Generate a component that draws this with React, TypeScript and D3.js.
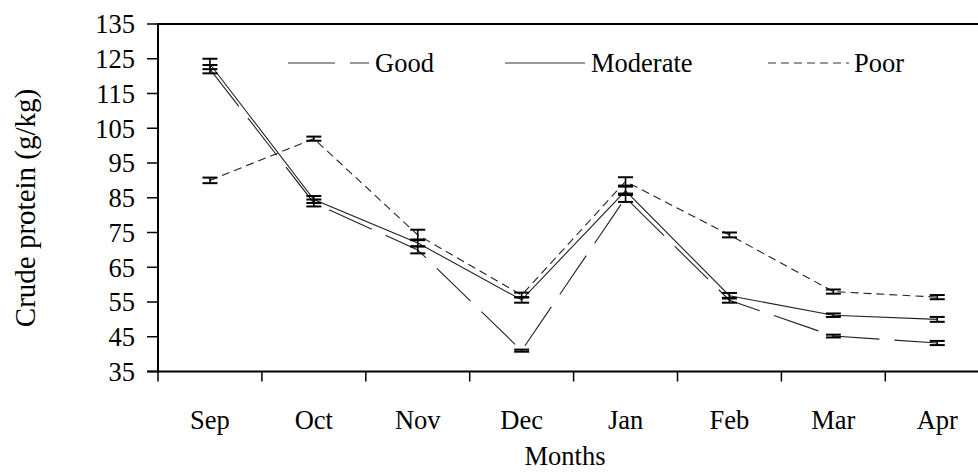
import React from "react";
import * as d3 from "d3";

const months = ["Sep", "Oct", "Nov", "Dec", "Jan", "Feb", "Mar", "Apr"];
const goodValues = [122, 83.5, 70, 41, 85, 55.5, 45.2, 43.2];
const goodErrors = [1.2, 1, 1, 0.3, 1.2, 0.7, 0.4, 0.6];
const moderateValues = [123.5, 84.5, 72, 55.6, 87, 56.8, 51.2, 50];
const moderateErrors = [1.5, 1, 1, 0.8, 1.2, 0.8, 0.5, 0.7];
const poorValues = [90, 102, 74.3, 57, 89.7, 74.3, 58, 56.4];
const poorErrors = [0.8, 0.6, 1.5, 0.7, 1.2, 0.7, 0.6, 0.6];
const yTicks = [35, 45, 55, 65, 75, 85, 95, 105, 115, 125, 135];

const series = [
  { name: "Good", values: goodValues, errors: goodErrors, dash: "47 15" },
  { name: "Moderate", values: moderateValues, errors: moderateErrors, dash: "none" },
  { name: "Poor", values: poorValues, errors: poorErrors, dash: "8 5" },
];

const W = 978;
const H = 475;
const left = 158;
const top = 24;
const bottom = 371.5;
const bandW = 103.9;
const font = "'Liberation Serif', 'Times New Roman', serif";

export default function App() {
  const x = d3.scaleBand<string>().domain(months).range([left, left + bandW * months.length]).padding(0);
  const y = d3.scaleLinear().domain([35, 135]).range([bottom, top]);
  const cx = (m: string) => (x(m) as number) + x.bandwidth() / 2;
  const line = d3
    .line<number>()
    .x((_, i) => cx(months[i]))
    .y((v) => y(v));
  const right = left + bandW * months.length;
  const boundaries = months.map((m) => x(m) as number).concat([right]);

  const legend = [
    { name: "Good", x1: 288, x2: 369, tx: 375, dash: "47 15" },
    { name: "Moderate", x1: 505, x2: 585, tx: 591, dash: "none" },
    { name: "Poor", x1: 768, x2: 849, tx: 854, dash: "8 5" },
  ];

  return (
    <svg width={W} height={H} style={{ position: "absolute", left: 0, top: 0, background: "#fff" }}>
      <line x1={left} x2={right} y1={top} y2={top} stroke="#000" strokeWidth={2} />
      <line x1={right} x2={right} y1={top} y2={bottom} stroke="#000" strokeWidth={2} />
      {series.map((s) => (
        <path
          key={s.name}
          d={line(s.values) || ""}
          fill="none"
          stroke="#222"
          strokeWidth={1.1}
          strokeDasharray={s.dash}
        />
      ))}
      {series.map((s) =>
        s.values.map((v, i) => {
          const px = cx(months[i]);
          const y1 = y(v - s.errors[i]);
          const y2 = y(v + s.errors[i]);
          return (
            <g key={s.name + i} stroke="#000">
              <line x1={px} x2={px} y1={y1} y2={y2} strokeWidth={1.6} />
              <line x1={px - 7.5} x2={px + 7.5} y1={y1} y2={y1} strokeWidth={2} />
              <line x1={px - 7.5} x2={px + 7.5} y1={y2} y2={y2} strokeWidth={2} />
            </g>
          );
        })
      )}
      <line x1={left} x2={left} y1={top - 1} y2={bottom + 1} stroke="#000" strokeWidth={2} />
      {yTicks.map((t) => (
        <g key={t}>
          <line x1={left - 11} x2={left} y1={y(t)} y2={y(t)} stroke="#000" strokeWidth={1.5} />
          <text x={135} y={y(t)} dy="0.35em" textAnchor="end" fontFamily={font} fontSize={26.5} fill="#000">
            {t}
          </text>
        </g>
      ))}
      <line x1={left - 11} x2={right} y1={bottom} y2={bottom} stroke="#000" strokeWidth={2} />
      {boundaries.map((b, i) => (
        <line key={i} x1={b} x2={b} y1={bottom} y2={bottom + 10} stroke="#000" strokeWidth={1.5} />
      ))}
      {months.map((m) => (
        <text key={m} x={cx(m)} y={429} textAnchor="middle" fontFamily={font} fontSize={26.5} fill="#000">
          {m}
        </text>
      ))}
      <text x={565} y={465} textAnchor="middle" fontFamily={font} fontSize={26.5} fill="#000">
        Months
      </text>
      <text
        transform={`translate(35, 208) rotate(-90)`}
        textAnchor="middle"
        fontFamily={font}
        fontSize={29}
        fill="#000"
      >
        Crude protein (g/kg)
      </text>
      {legend.map((l) => (
        <g key={l.name}>
          <line x1={l.x1} x2={l.x2} y1={63} y2={63} stroke="#333" strokeWidth={1.1} strokeDasharray={l.dash} />
          <text x={l.tx} y={72} fontFamily={font} fontSize={26.5} fill="#000">
            {l.name}
          </text>
        </g>
      ))}
    </svg>
  );
}
